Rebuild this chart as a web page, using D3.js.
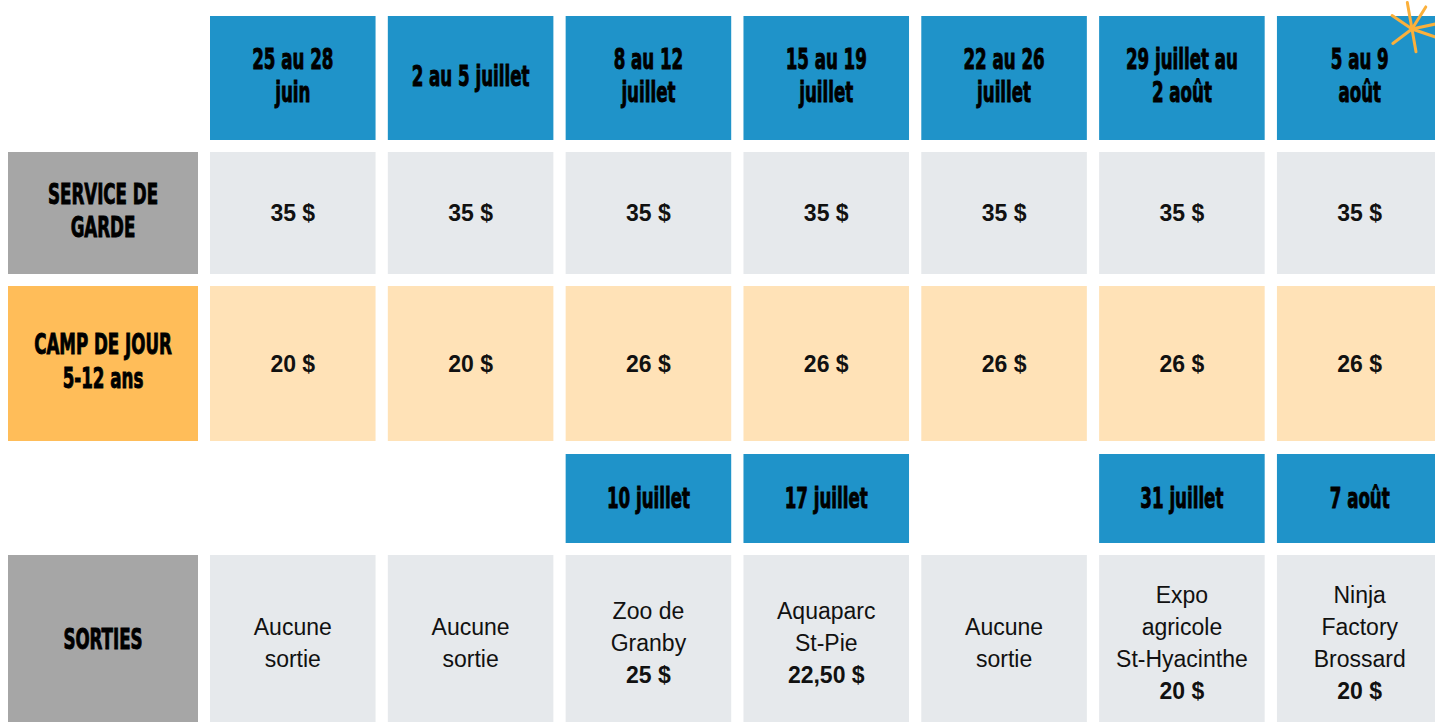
<!DOCTYPE html>
<html lang="fr">
<head>
<meta charset="utf-8">
<script src="https://cdn.jsdelivr.net/npm/d3@7"></script>
<style>
  html, body { margin: 0; padding: 0; background: #fff; }
  svg { display: block; }
</style>
</head>
<body>
<svg id="chart"></svg>
<script>
// Data
const weekLabels = [["25 au 28", "juin"], ["2 au 5 juillet"], ["8 au 12", "juillet"], ["15 au 19", "juillet"],
  ["22 au 26", "juillet"], ["29 juillet au", "2 août"], ["5 au 9", "août"]];
const rowLabels = [["SERVICE DE", "GARDE"], ["CAMP DE JOUR", "5-12 ans"], ["SORTIES"]];
const gardePrices = [35, 35, 35, 35, 35, 35, 35];
const campPrices = [20, 20, 26, 26, 26, 26, 26];
const outingDates = [null, null, "10 juillet", "17 juillet", null, "31 juillet", "7 août"];
const outingPlaces = [["Aucune", "sortie"], ["Aucune", "sortie"], ["Zoo de", "Granby"], ["Aquaparc", "St-Pie"],
  ["Aucune", "sortie"], ["Expo", "agricole", "St-Hyacinthe"], ["Ninja", "Factory", "Brossard"]];
const outingPrices = [null, null, 25, 22.5, null, 20, 20];

// Layout
const width = 1435;
const height = 722;
const labelCol = { x: 8, w: 190 };
const rows = {
  head:    { y: 16,  h: 124 },
  garde:   { y: 152, h: 122 },
  camp:    { y: 286, h: 155 },
  dates:   { y: 454, h: 89 },
  sorties: { y: 555, h: 167 }
};
const colors = {
  blue: "#1f93c9", gray: "#a6a6a6", light: "#e6e9ec",
  orange: "#ffbd59", cream: "#ffe2b7", star: "#fbb03b"
};
const condense = 0.64;   // squeeze the bold face to look like a poster font

const locale = d3.formatLocale({ decimal: ",", thousands: " ", grouping: [3], currency: ["", " $"] });
const money = v => Number.isInteger(v) ? locale.format("$d")(v) : locale.format("$.2f")(v);

const svg = d3.select("#chart")
  .attr("width", width)
  .attr("height", height);

// column scale for the seven weeks
const x = d3.scaleBand()
  .domain(d3.range(weekLabels.length))
  .range([210, 1442.5])
  .paddingInner(0.069);

// poster-style text (tall, condensed, heavy)
function posterText(g, lines, cx, cy) {
  const t = g.append("g")
    .attr("transform", `translate(${cx},${cy}) scale(${condense},1)`);
  lines.forEach((s, i) => {
    t.append("text")
      .attr("y", (i - (lines.length - 1) / 2) * 34 + 10.5)
      .attr("text-anchor", "middle")
      .attr("font-family", "'DejaVu Sans Condensed', 'DejaVu Sans', sans-serif")
      .attr("font-weight", "bold")
      .attr("font-size", 29)
      .attr("fill", "#000")
      .attr("stroke", "#000")
      .attr("stroke-width", 0.9)
      .text(s);
  });
}

// body text, last line bold if asked
function bodyText(g, lines, cx, cy, boldLast) {
  lines.forEach((s, i) => {
    g.append("text")
      .attr("x", cx)
      .attr("y", cy + (i - (lines.length - 1) / 2) * 32 + 8)
      .attr("text-anchor", "middle")
      .attr("font-family", "'Liberation Sans', Arial, sans-serif")
      .attr("font-weight", boldLast && i === lines.length - 1 ? "bold" : "normal")
      .attr("font-size", 23)
      .attr("fill", "#111")
      .text(s);
  });
}

function cell(g, x0, w, row, fill) {
  g.append("rect")
    .attr("x", x0).attr("y", row.y)
    .attr("width", w).attr("height", row.h)
    .attr("fill", fill);
}

// header row
const head = svg.append("g");
weekLabels.forEach((lines, i) => {
  cell(head, x(i), x.bandwidth(), rows.head, colors.blue);
  posterText(head, lines, x(i) + x.bandwidth() / 2, rows.head.y + rows.head.h / 2 - 3);
});

// row labels
const labels = svg.append("g");
[[rows.garde, colors.gray, -3], [rows.camp, colors.orange, -3], [rows.sorties, colors.gray, 0]]
  .forEach(([row, fill, shift], i) => {
    cell(labels, labelCol.x, labelCol.w, row, fill);
    posterText(labels, rowLabels[i], labelCol.x + labelCol.w / 2, row.y + row.h / 2 + shift);
  });

// service de garde
const garde = svg.append("g");
gardePrices.forEach((v, i) => {
  cell(garde, x(i), x.bandwidth(), rows.garde, colors.light);
  bodyText(garde, [money(v)], x(i) + x.bandwidth() / 2, rows.garde.y + rows.garde.h / 2, true);
});

// camp de jour
const camp = svg.append("g");
campPrices.forEach((v, i) => {
  cell(camp, x(i), x.bandwidth(), rows.camp, colors.cream);
  bodyText(camp, [money(v)], x(i) + x.bandwidth() / 2, rows.camp.y + rows.camp.h / 2, true);
});

// outing dates
const dates = svg.append("g");
outingDates.forEach((d, i) => {
  if (!d) return;
  cell(dates, x(i), x.bandwidth(), rows.dates, colors.blue);
  posterText(dates, [d], x(i) + x.bandwidth() / 2, rows.dates.y + rows.dates.h / 2 - 1);
});

// outings
const outings = svg.append("g");
outingPlaces.forEach((place, i) => {
  cell(outings, x(i), x.bandwidth(), rows.sorties, colors.light);
  const price = outingPrices[i];
  const lines = price == null ? place : place.concat([money(price)]);
  bodyText(outings, lines, x(i) + x.bandwidth() / 2, rows.sorties.y + rows.sorties.h / 2 + 4.5, price != null);
});

// little hand-drawn star at the top right
const starSpokes = [-100, -58, -12, 19, 80, 143, 214];
const starLen = [27, 26, 24, 25, 23, 24, 24];
const star = svg.append("g").attr("transform", "translate(1412,29)");
star.selectAll("line")
  .data(starSpokes)
  .join("line")
  .attr("x1", 0).attr("y1", 0)
  .attr("x2", (a, i) => Math.cos(a * Math.PI / 180) * starLen[i])
  .attr("y2", (a, i) => Math.sin(a * Math.PI / 180) * starLen[i])
  .attr("stroke", colors.star)
  .attr("stroke-width", 3)
  .attr("stroke-linecap", "round");
</script>
</body>
</html>
